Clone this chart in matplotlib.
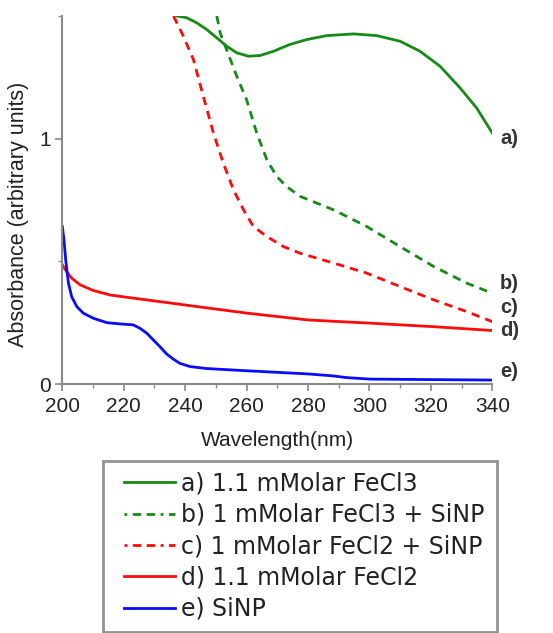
import matplotlib
matplotlib.use("Agg")
import matplotlib.pyplot as plt
from matplotlib.lines import Line2D
from matplotlib.legend_handler import HandlerLine2D
from matplotlib.ticker import MultipleLocator

plt.rcParams['font.family'] = ['Liberation Sans', 'DejaVu Sans']

# ---- data ----
wl_a = [237.3, 240.5, 243.8, 247, 250.3, 253.5, 256.8, 260.6, 264.4, 268.7, 274.1, 279.6, 286.1,
        294.8, 302.4, 310, 316.5, 323, 329.5, 334.9, 340]
abs_a = [1.50, 1.493, 1.472, 1.445, 1.411, 1.377, 1.350, 1.336, 1.339, 1.356, 1.384, 1.404, 1.420,
         1.427, 1.420, 1.397, 1.356, 1.295, 1.207, 1.125, 1.023]

wl_b = [250.3, 251.4, 253.5, 256.8, 260, 263.3, 266.6, 269.8, 273, 277.4, 288.3, 299.1, 310, 320.9, 331.7, 340]
abs_b = [1.50, 1.431, 1.363, 1.254, 1.159, 1.023, 0.914, 0.846, 0.805, 0.765, 0.71, 0.642, 0.56, 0.479, 0.411, 0.37]

wl_c = [236.2, 239.4, 242.7, 245.9, 249.2, 252.4, 255.7, 259, 262.2, 266.6, 272, 277.4, 288.3, 299.1, 310, 320.9, 331.7, 340]
abs_c = [1.50, 1.418, 1.322, 1.173, 1.023, 0.901, 0.792, 0.71, 0.642, 0.601, 0.56, 0.533, 0.493, 0.452, 0.397, 0.343, 0.295, 0.254]

wl_d = [200, 201.4, 203.1, 205.8, 210.1, 215.5, 223.1, 240, 260, 280, 300.2, 320.3, 340]
abs_d = [0.486, 0.458, 0.431, 0.404, 0.381, 0.363, 0.350, 0.322, 0.289, 0.261, 0.248, 0.234, 0.218]

wl_e = [200, 200.55, 201.1, 202, 203.05, 204.7, 206.8, 210.1, 214.5, 218.8, 223.1, 225.3, 227.5, 229.6,
        231.8, 234, 236.2, 238.3, 241.6, 247, 260, 280.1, 288.2, 292.6, 300.2, 340]
abs_e = [0.642, 0.588, 0.506, 0.411, 0.356, 0.316, 0.289, 0.268, 0.250, 0.245, 0.241, 0.227, 0.207, 0.180,
         0.152, 0.122, 0.101, 0.084, 0.071, 0.063, 0.054, 0.041, 0.033, 0.026, 0.020, 0.016]

labels = ["a) 1.1 mMolar FeCl3", "b) 1 mMolar FeCl3 + SiNP", "c) 1 mMolar FeCl2 + SiNP",
          "d) 1.1 mMolar FeCl2", "e) SiNP"]
end_tags = ["a)", "b)", "c)", "d)", "e)"]
tag_y = [1.0, 0.41, 0.31, 0.22, 0.05]

green = '#168a16'
red = '#ff0a0a'
blue = '#0a0aff'
txt = '#222222'
spine = '#8a8a8a'

fig = plt.figure(figsize=(5.53, 6.33), dpi=100)
ax = fig.add_axes([62.3 / 553, 1 - 384 / 633, 430 / 553, 368 / 633])

lw = 2.0
ax.plot(wl_a, abs_a, color=green, lw=lw)
ax.plot(wl_b, abs_b, color=green, lw=lw, dashes=(3, 2.2))
ax.plot(wl_c, abs_c, color=red, lw=lw, dashes=(3, 2.2))
ax.plot(wl_d, abs_d, color=red, lw=lw)
ax.plot(wl_e, abs_e, color=blue, lw=lw)

ax.set_xlim(200, 340)
ax.set_ylim(0, 1.5)
ax.xaxis.set_major_locator(MultipleLocator(20))
ax.xaxis.set_minor_locator(MultipleLocator(10))
ax.yaxis.set_major_locator(MultipleLocator(1))
ax.yaxis.set_minor_locator(MultipleLocator(0.5))

for s in ['top', 'right']:
    ax.spines[s].set_visible(False)
for s in ['left', 'bottom']:
    ax.spines[s].set_color(spine)
    ax.spines[s].set_linewidth(1.5)

ax.tick_params(axis='both', which='major', direction='out', length=5, width=1.2,
               color=spine, labelsize=15, labelcolor=txt)
ax.tick_params(axis='y', which='major', pad=3)
ax.tick_params(axis='x', which='major', pad=4)
ax.tick_params(axis='both', which='minor', direction='out', length=3, width=1.0, color=spine)

ax.set_xlabel("Wavelength(nm)", fontsize=15, color=txt)
ax.set_ylabel("Absorbance (arbitrary units)", fontsize=15.5, color=txt)
ax.xaxis.set_label_coords(0.5, (384 - 431) / 368)
ax.yaxis.set_label_coords((29 - 62.3) / 430, 0.462)

for t, yv in zip(end_tags, tag_y):
    ax.text(342.5, yv, t, fontsize=14.5, fontweight='bold', color='#333333',
            va='center', ha='left', clip_on=False)


class OffsetLineHandler(HandlerLine2D):
    def get_xdata(self, legend, xdescent, ydescent, width, height, fontsize):
        x0 = -xdescent + width * 0.17
        x1 = -xdescent + width
        return [x0, x1], [x0, x1]


handles = [
    Line2D([], [], color=green, lw=lw),
    Line2D([], [], color=green, lw=lw, dashes=(1, 2, 3, 2, 3, 2)),
    Line2D([], [], color=red, lw=lw, dashes=(1, 2, 3, 2, 3, 2)),
    Line2D([], [], color=red, lw=lw),
    Line2D([], [], color=blue, lw=lw),
]
leg = fig.legend(handles, labels, loc='upper left',
                 bbox_to_anchor=(103 / 553, 1 - 467 / 633, 394 / 553, 0.01),
                 mode='expand', frameon=True, fancybox=False,
                 prop={'family': 'DejaVu Sans', 'size': 17},
                 borderaxespad=0, handlelength=2.58, handletextpad=0.25,
                 labelspacing=0.31, borderpad=0.46,
                 handler_map={Line2D: OffsetLineHandler()})
leg.get_frame().set_edgecolor('#777777')
leg.get_frame().set_linewidth(2)
for t in leg.get_texts():
    t.set_color(txt)

fig.savefig("out.png", dpi=100)
